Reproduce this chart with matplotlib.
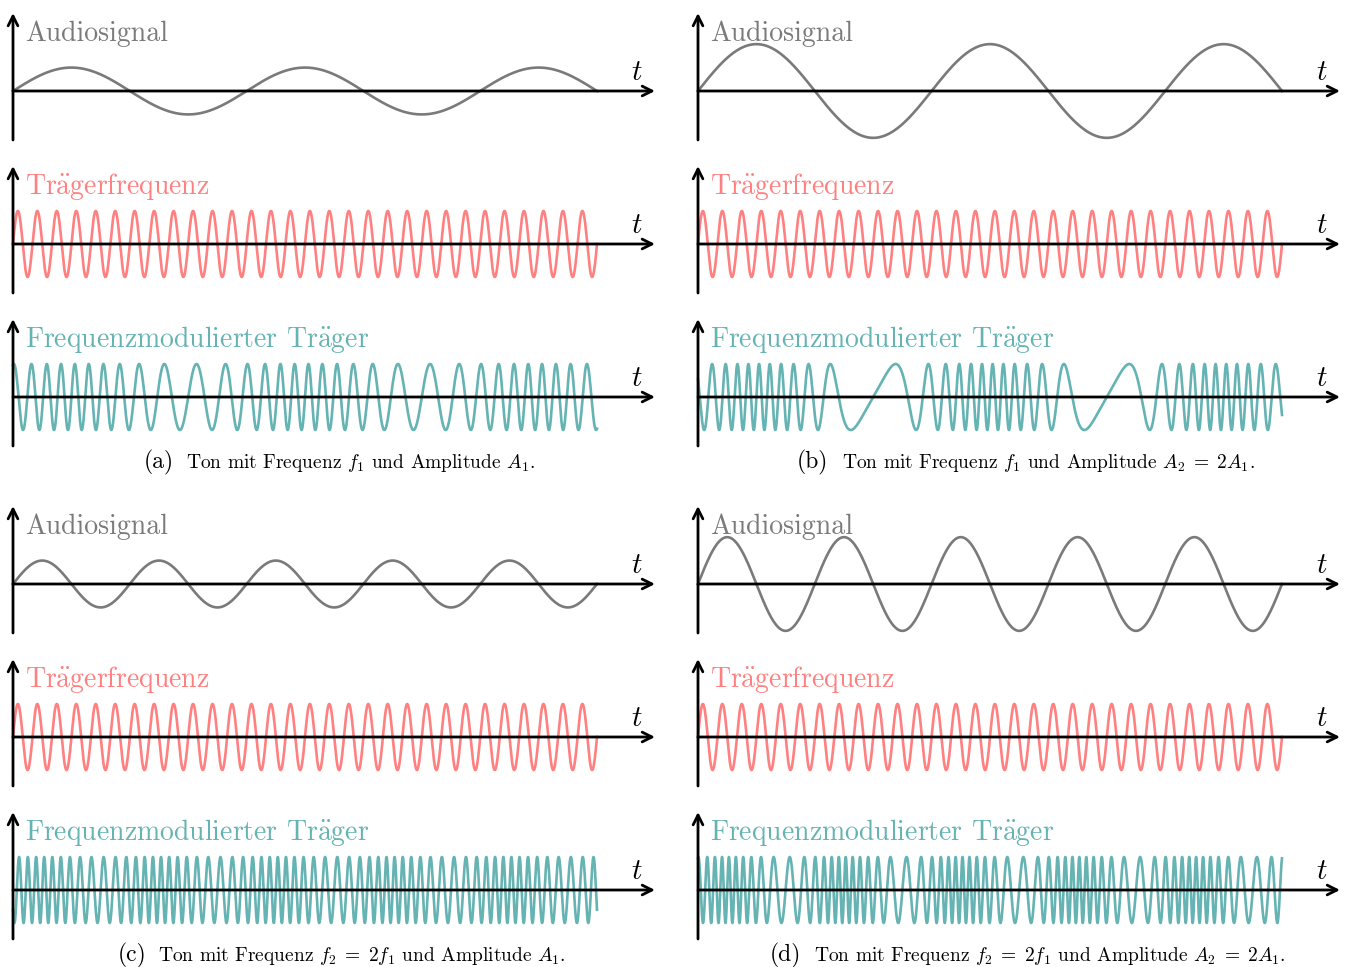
import numpy as np
import matplotlib.pyplot as plt

plt.rcParams['font.family'] = 'cmr10'
plt.rcParams['mathtext.fontset'] = 'cm'
plt.rcParams['axes.unicode_minus'] = False

###############################################################################
# signal parameters for the four cases (a)-(d)
###############################################################################
panel_letters = ['a', 'b', 'c', 'd']
audio_cycles = [2.5, 2.5, 5.0, 5.0]        # periods of the tone over the time span
audio_amp = [0.71, 1.42, 0.71, 1.42]       # A1 and A2 = 2*A1
carrier_cycles = 30                         # periods of the carrier
fm_center = [30, 30, 60, 60]                # centre frequency of the modulated carrier
fm_dev = [12.5, 25, 12.5, 25]               # frequency deviation
captions = [
    r'Ton mit Frequenz $f_1$ und Amplitude $A_1$.',
    r'Ton mit Frequenz $f_1$ und Amplitude $A_2\;=\;2A_1$.',
    r'Ton mit Frequenz $f_2\;=\;2f_1$ und Amplitude $A_1$.',
    r'Ton mit Frequenz $f_2\;=\;2f_1$ und Amplitude $A_2\;=\;2A_1$.',
]
row_labels = ['Audiosignal', r'Tr$\ddot{\mathrm{a}}$gerfrequenz',
              r'Frequenzmodulierter Tr$\ddot{\mathrm{a}}$ger']
row_colors = ['#7a7a7a', '#ff8080', '#66b3b3']

###############################################################################
# layout (pixels)
###############################################################################
W, H = 1347, 967
PX = 33.0           # pixels per amplitude unit
SPAN = 584.0        # pixels for t = 0..1
col_x = [13, 698]
row_y = [[91, 244, 397], [584, 737, 890]]
cap_y = [468, 961]
cap_split = [[174, 186], [828, 842], [146, 158], [801, 814]]

fig = plt.figure(figsize=(W / 100, H / 100), dpi=100)
t = np.linspace(0, 1, 6000)


def row_axes(cx, ay):
    left, right, up, down = 5, 650, 82, 55
    ax = fig.add_axes([(cx - left) / W, 1 - (ay + down) / H,
                       (left + right) / W, (up + down) / H])
    ax.set_xlim(-left / SPAN, right / SPAN)
    ax.set_ylim(-down / PX, up / PX)
    ax.axis('off')
    return ax


def draw_axes(ax):
    arrow = dict(arrowstyle='->,head_length=0.7,head_width=0.35', lw=2.0,
                 color='black', shrinkA=0, shrinkB=0)
    ax.annotate('', xy=(642 / SPAN, 0), xytext=(0, 0), arrowprops=arrow)
    ax.annotate('', xy=(0, 78 / PX), xytext=(0, -49 / PX), arrowprops=arrow)
    ax.text(624 / SPAN, 11 / PX, '$t$', fontsize=21, ha='center', va='baseline')


for k in range(4):
    cx = col_x[k % 2]
    rows = row_y[k // 2]

    audio = audio_amp[k] * np.sin(2 * np.pi * audio_cycles[k] * t)
    carrier = np.sin(2 * np.pi * carrier_cycles * t)
    # phase is the integral of the instantaneous frequency
    phase = 2 * np.pi * fm_center[k] * t - fm_dev[k] / audio_cycles[k] * np.cos(2 * np.pi * audio_cycles[k] * t)
    fm = np.sin(phase)

    for r, sig in enumerate([audio, carrier, fm]):
        ax = row_axes(cx, rows[r])
        ax.plot(t, sig, color=row_colors[r], lw=1.9, zorder=1)
        draw_axes(ax)
        ax.text(12 / SPAN, 50 / PX, row_labels[r], color=row_colors[r],
                fontsize=20, ha='left', va='baseline')

    # caption below each group
    xr, xl = cap_split[k]
    fig.text(xr / W, 1 - cap_y[k // 2] / H, '(%s)' % panel_letters[k],
             fontsize=17, ha='right', va='baseline')
    fig.text(xl / W, 1 - cap_y[k // 2] / H, captions[k],
             fontsize=14, ha='left', va='baseline')

plt.savefig('out.png', dpi=100)
